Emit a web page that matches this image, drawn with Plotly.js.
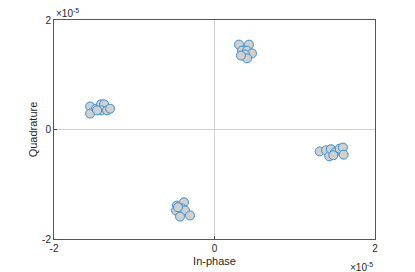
<!DOCTYPE html>
<html>
<head>
<meta charset="utf-8">
<script src="https://cdn.plot.ly/plotly-3.0.1.min.js"></script>
<style>html,body{margin:0;padding:0;background:#fff;}#chart{width:415px;height:272px;}</style>
</head>
<body>
<div id="chart"></div>
<script>
// In-phase / Quadrature samples (units of 1e-6)
const inPhase = [
  3.05, 4.30, 3.42, 4.05, 4.67, 3.80, 4.05, 3.30,
  -15.5, -15.5, -14.76, -14.13, -13.76, -14.13, -13.39, -13.01, -14.63,
  -4.67, -3.80, -4.05, -4.79, -3.67, -4.30, -3.05, -4.55,
  13.1, 13.9, 14.3, 14.5, 15.0, 15.6, 16.0, 16.1, 14.8
];
const quadrature = [
  15.5, 15.5, 14.4, 14.4, 13.9, 13.7, 13.0, 13.5,
  4.2, 2.9, 3.8, 4.6, 4.6, 3.5, 3.5, 3.8, 3.5,
  -13.9, -13.3, -14.4, -14.8, -14.8, -15.9, -15.7, -14.2,
  -4.0, -3.8, -4.9, -3.6, -4.2, -3.5, -3.3, -4.6, -4.7
];
const tickVals = [-2e-5, 0, 2e-5];
const tickText = ['-2', '0', '2'];

const scale = 1e-6;
const trace = {
  x: inPhase.map(v => v * scale),
  y: quadrature.map(v => v * scale),
  type: 'scatter',
  mode: 'markers',
  marker: {size: 9, color: '#d0d0d0', line: {color: '#3a8ed0', width: 1}},
  hoverinfo: 'skip'
};

const font = {family: 'Liberation Sans, Arial, sans-serif', size: 10, color: '#262626'};
const titleFont = {family: 'Liberation Sans, Arial, sans-serif', size: 11, color: '#262626'};
const axisCommon = {
  range: [-2e-5, 2e-5],
  tickvals: tickVals,
  ticktext: tickText,
  ticks: 'inside',
  ticklen: 3,
  tickcolor: '#444',
  showline: true,
  linecolor: '#555',
  linewidth: 1,
  mirror: true,
  showgrid: false,
  zeroline: true,
  zerolinecolor: '#d0d0d0',
  zerolinewidth: 1,
  tickfont: font,
  fixedrange: true
};

const layout = {
  width: 415,
  height: 272,
  margin: {l: 54, r: 40, t: 20, b: 33},
  paper_bgcolor: '#fff',
  plot_bgcolor: '#fff',
  showlegend: false,
  font: font,
  xaxis: Object.assign({}, axisCommon, {title: {text: 'In-phase', font: titleFont, standoff: 4}}),
  yaxis: Object.assign({}, axisCommon, {title: {text: 'Quadrature', font: titleFont, standoff: 2}}),
  annotations: [
    {text: '×10<sup>-5</sup>', xref: 'paper', yref: 'paper', x: 0, y: 1, xanchor: 'left', yanchor: 'bottom', showarrow: false, font: font, yshift: -1},
    {text: '×10<sup>-5</sup>', xref: 'paper', yref: 'paper', x: 1, y: 0, xanchor: 'right', yanchor: 'top', showarrow: false, font: font, yshift: -20}
  ]
};

Plotly.newPlot('chart', [trace], layout, {displayModeBar: false, staticPlot: true});
</script>
</body>
</html>
